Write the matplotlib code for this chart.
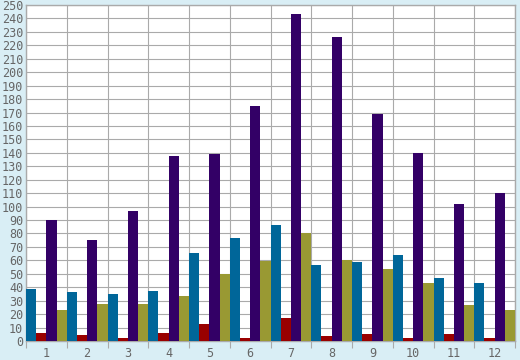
import matplotlib
matplotlib.use('Agg')
import matplotlib.pyplot as plt
import numpy as np

months = ['1', '2', '3', '4', '5', '6', '7', '8', '9', '10', '11', '12']
blue_vals = [39, 36.6, 35, 37.3, 65.7, 77, 86.6, 56.7, 59, 64.2, 47, 43.3]
red_vals = [6, 4.5, 2.3, 6, 12.7, 2.5, 17, 3.7, 5.2, 2.5, 5.2, 2.5]
purple_vals = [90, 75, 97, 138, 139.5, 174.6, 243.3, 226, 168.7, 140, 102, 110]
olive_vals = [23, 27.6, 27.6, 33.6, 49.5, 59.7, 80, 60.4, 53.7, 43.3, 26.9, 23]

series = [(blue_vals, '#006699'), (red_vals, '#990000'),
          (purple_vals, '#330066'), (olive_vals, '#999933')]

bg = '#d9eef5'
grid_c = '#aaaaaa'
txt_c = '#666666'

fig = plt.figure(figsize=(5.2, 3.6), dpi=100, facecolor=bg)
ax = fig.add_axes([26 / 520, 1 - 341 / 360, 489 / 520, 336 / 360])
ax.set_facecolor('white')

x = np.arange(len(months))
w = 0.25
for i, (vals, col) in enumerate(series):
    ax.bar(x + i * w, vals, w, align='edge', color=col, zorder=3, linewidth=0)

ax.set_xlim(0, len(months))
ax.set_ylim(0, 250)
ax.set_yticks(np.arange(0, 251, 10))
ax.set_xticks(np.arange(0, len(months) + 1))
ax.set_xticklabels([])
ax.set_xticks(x + 0.5, minor=True)
ax.set_xticklabels(months, minor=True)
ax.grid(True, color=grid_c, linewidth=0.8, zorder=0)
for s in ax.spines.values():
    s.set_color(grid_c)
    s.set_linewidth(1.0)
ax.tick_params(axis='x', which='major', length=5, color=grid_c, width=0.8)
ax.tick_params(axis='x', which='minor', length=0, pad=4, labelsize=8.5, labelcolor=txt_c)
ax.tick_params(axis='y', length=0, pad=2, labelsize=8.5, labelcolor=txt_c)
for lab in ax.get_yticklabels() + ax.get_xticklabels(minor=True):
    lab.set_family('DejaVu Sans Mono')

fig.savefig('out.png', dpi=100, facecolor=bg)
